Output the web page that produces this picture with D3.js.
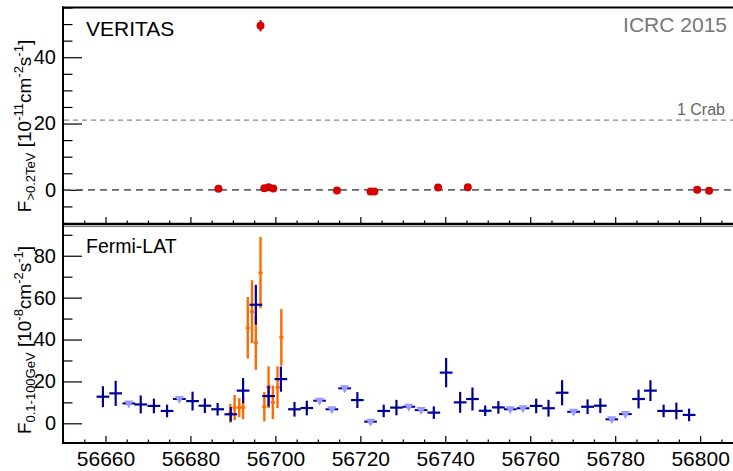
<!DOCTYPE html>
<html>
<head>
<meta charset="utf-8">
<script src="https://cdn.jsdelivr.net/npm/d3@7"></script>
<style>
  html, body { margin: 0; padding: 0; background: #fff; }
  svg { display: block; font-family: "Liberation Sans", Arial, Helvetica, sans-serif; }
</style>
</head>
<body>
<svg id="chart" width="733" height="471"></svg>
<script>
// ---------------- DATA ----------------
// VERITAS (>0.2 TeV), 10^-11 cm^-2 s^-1
const veritasMJD  = [56686.6, 56696.5, 56697.4, 56698.4, 56699.5, 56714.5, 56722.4, 56723.3, 56738.3, 56745.3, 56799.3, 56802.1];
const veritasFlux = [0.3, 49.5, 0.5, 0.8, 0.4, -0.2, -0.5, -0.5, 0.7, 0.8, 0.0, -0.3];
const veritasErr  = [0.4, 1.7, 0.4, 0.4, 0.4, 0.4, 0.4, 0.4, 0.4, 0.4, 0.4, 0.4];
const crabLevel = 21;

// Fermi-LAT 3-day bins, detections (10^-8 cm^-2 s^-1)
const fermiMJD  = [56659.4, 56662.4, 56668.3, 56671.4, 56674.5, 56680.5, 56683.4, 56686.4, 56689.5, 56692.4, 56695.4, 56698.4, 56701.3, 56704.5, 56707.4, 56719.3, 56725.5, 56728.5, 56737.3, 56740.2, 56743.5, 56746.4, 56749.4, 56752.5, 56761.4, 56764.3, 56767.5, 56773.5, 56776.5, 56785.5, 56788.3, 56791.4, 56794.4, 56797.4];
const fermiFlux = [12.7, 14.3, 9.0, 8.3, 5.9, 10.6, 8.4, 6.7, 4.3, 15.6, 56.6, 13.0, 21.1, 6.7, 7.3, 11.1, 5.9, 7.5, 5.1, 24.2, 10.0, 11.6, 6.0, 7.6, 8.3, 7.2, 14.6, 7.9, 8.4, 11.6, 15.6, 5.9, 5.9, 4.0];
const fermiErr  = [5.0, 6.0, 4.3, 3.5, 3.0, 4.5, 3.5, 3.0, 3.5, 6.0, 9.5, 5.0, 6.0, 3.5, 3.5, 3.8, 3.0, 3.7, 3.0, 7.0, 5.0, 5.5, 2.5, 3.0, 3.5, 4.0, 6.0, 3.5, 3.5, 4.5, 5.0, 3.0, 4.0, 3.0];
const fermiBinHalf = 1.5;

// Fermi-LAT upper limits (3-day bins)
const ulMJD  = [56665.5, 56677.4, 56710.4, 56713.3, 56716.3, 56722.4, 56731.4, 56734.3, 56755.3, 56758.3, 56770.2, 56779.2, 56782.4];
const ulFlux = [9.5, 11.6, 10.8, 6.7, 16.7, 0.8, 7.9, 6.3, 6.7, 7.2, 5.5, 1.9, 4.4];

// Fermi-LAT 1-day bins around the flare
const flareMJD  = [56689.4, 56690.4, 56691.5, 56692.4, 56693.5, 56694.5, 56695.4, 56696.5, 56697.4, 56698.4, 56699.4, 56700.5, 56701.4];
const flareFlux = [4.8, 7.5, 7.5, 7.5, 45.6, 53.3, 38.5, 71.9, 7.9, 17.2, 10.0, 17.2, 41.0];
const flareErr  = [4.5, 6.0, 4.5, 5.5, 14.7, 15.0, 13.0, 17.0, 7.0, 10.0, 8.0, 10.0, 13.5];
const flareBinHalf = 0.5;

// ticks
const xMajorTicks = [56660, 56680, 56700, 56720, 56740, 56760, 56780, 56800];
const topYMajor = [0, 20, 40];
const botYMajor = [0, 20, 40, 60, 80];

// ---------------- DRAW ----------------
const svg = d3.select("#chart");
const FONT = "'Liberation Sans', Arial, Helvetica, sans-serif";
const dark = "#000099", light = "#9999ff", red = "#d40000", orange = "#ff6a00";

const x = d3.scaleLinear().domain([56650, 56807.5]).range([63, 732]);
const yTop = d3.scaleLinear().domain([-10, 55]).range([223, 7.5]);
const yBot = d3.scaleLinear().domain([-9.4, 94.2]).range([443, 226]);

const xMinor = d3.range(56650, 56808, 5).filter(v => !xMajorTicks.includes(v));
const topMinor = d3.range(-5, 56, 5).filter(v => !topYMajor.includes(v));
const botMinor = d3.range(-0, 95, 10).filter(v => !botYMajor.includes(v));

function styleAxis(g, fs) {
  g.select(".domain").remove();
  g.selectAll("line").attr("stroke", "#000").attr("stroke-width", 1.2);
  g.selectAll("text").attr("font-family", FONT).attr("font-size", fs).attr("fill", "#000");
}

// ----- top panel axes -----
svg.append("g").attr("transform", "translate(0,224)")
  .call(d3.axisBottom(x).tickValues(xMajorTicks).tickSize(-7).tickFormat(""))
  .call(g => styleAxis(g, 0));
svg.append("g").attr("transform", "translate(0,224)")
  .call(d3.axisBottom(x).tickValues(xMinor).tickSize(-3.5).tickFormat(""))
  .call(g => styleAxis(g, 0));
svg.append("g").attr("transform", "translate(63,0)")
  .call(d3.axisLeft(yTop).tickValues(topYMajor).tickSize(-19).tickPadding(7).tickFormat(d3.format("d")))
  .call(g => styleAxis(g, 20));
svg.append("g").attr("transform", "translate(63,0)")
  .call(d3.axisLeft(yTop).tickValues(topMinor).tickSize(-9.5).tickFormat(""))
  .call(g => styleAxis(g, 0));

// ----- bottom panel axes -----
svg.append("g").attr("transform", "translate(0,443)")
  .call(d3.axisBottom(x).tickValues(xMajorTicks).tickSize(-7).tickPadding(8).tickFormat(d3.format("d")))
  .call(g => styleAxis(g, 21));
svg.append("g").attr("transform", "translate(0,443)")
  .call(d3.axisBottom(x).tickValues(xMinor).tickSize(-3.5).tickFormat(""))
  .call(g => styleAxis(g, 0));
svg.append("g").attr("transform", "translate(63,0)")
  .call(d3.axisLeft(yBot).tickValues(botYMajor).tickSize(-19).tickPadding(7).tickFormat(d3.format("d")))
  .call(g => styleAxis(g, 20));
svg.append("g").attr("transform", "translate(63,0)")
  .call(d3.axisLeft(yBot).tickValues(botMinor).tickSize(-9.5).tickFormat(""))
  .call(g => styleAxis(g, 0));

// ----- frames -----
svg.append("line").attr("x1", 62).attr("x2", 733).attr("y1", 7.5).attr("y2", 7.5).attr("stroke", "#000").attr("stroke-width", 2);
svg.append("line").attr("x1", 63).attr("x2", 63).attr("y1", 6.5).attr("y2", 225).attr("stroke", "#000").attr("stroke-width", 2);
svg.append("line").attr("x1", 62).attr("x2", 733).attr("y1", 224).attr("y2", 224).attr("stroke", "#000").attr("stroke-width", 2.5);
svg.append("line").attr("x1", 64).attr("x2", 733).attr("y1", 226.5).attr("y2", 226.5).attr("stroke", "#777").attr("stroke-width", 1);
svg.append("line").attr("x1", 63).attr("x2", 63).attr("y1", 225).attr("y2", 444).attr("stroke", "#000").attr("stroke-width", 2);
svg.append("line").attr("x1", 62).attr("x2", 733).attr("y1", 443).attr("y2", 443).attr("stroke", "#000").attr("stroke-width", 2);

// ----- top panel reference lines -----
svg.append("line").attr("x1", 64).attr("x2", 733)
  .attr("y1", yTop(0)).attr("y2", yTop(0))
  .attr("stroke", "#666").attr("stroke-width", 1.6).attr("stroke-dasharray", "7,5");
svg.append("line").attr("x1", 64).attr("x2", 733)
  .attr("y1", yTop(crabLevel)).attr("y2", yTop(crabLevel))
  .attr("stroke", "#888").attr("stroke-width", 1.2).attr("stroke-dasharray", "5,4");
svg.append("text").attr("x", 725).attr("y", yTop(crabLevel) - 5)
  .attr("text-anchor", "end").attr("font-family", FONT).attr("font-size", 16).attr("fill", "#666").text("1 Crab");

// ----- VERITAS points -----
const vData = veritasMJD.map((m, i) => ({ m, f: veritasFlux[i], e: veritasErr[i] }));
const vg = svg.append("g");
vg.selectAll("line.err").data(vData).join("line")
  .attr("x1", d => x(d.m)).attr("x2", d => x(d.m))
  .attr("y1", d => yTop(d.f - d.e)).attr("y2", d => yTop(d.f + d.e))
  .attr("stroke", red).attr("stroke-width", 2);
vg.selectAll("circle").data(vData).join("circle")
  .attr("cx", d => x(d.m)).attr("cy", d => yTop(d.f)).attr("r", 4)
  .attr("fill", red);

// ----- Fermi flare (1-day bins, orange) -----
const oData = flareMJD.map((m, i) => ({ m, f: flareFlux[i], e: flareErr[i] }));
const og = svg.append("g");
og.selectAll("line.v").data(oData).join("line")
  .attr("x1", d => x(d.m)).attr("x2", d => x(d.m))
  .attr("y1", d => yBot(d.f - d.e)).attr("y2", d => yBot(d.f + d.e))
  .attr("stroke", orange).attr("stroke-width", 2.4);
og.selectAll("line.h").data(oData).join("line")
  .attr("x1", d => x(d.m - flareBinHalf)).attr("x2", d => x(d.m + flareBinHalf))
  .attr("y1", d => yBot(d.f)).attr("y2", d => yBot(d.f))
  .attr("stroke", orange).attr("stroke-width", 2.4);

// ----- Fermi upper limits -----
const uData = ulMJD.map((m, i) => ({ m, f: ulFlux[i] }));
const ug = svg.append("g");
ug.selectAll("line").data(uData).join("line")
  .attr("x1", d => x(d.m - fermiBinHalf)).attr("x2", d => x(d.m + fermiBinHalf))
  .attr("y1", d => yBot(d.f)).attr("y2", d => yBot(d.f))
  .attr("stroke", dark).attr("stroke-width", 2);
ug.selectAll("path").data(uData).join("path")
  .attr("d", d => {
    const cx = x(d.m), cy = yBot(d.f);
    return `M${cx - 4.6},${cy - 3} L${cx + 4.6},${cy - 3} L${cx},${cy + 5} Z`;
  })
  .attr("fill", light);

// ----- Fermi detections (3-day bins, dark blue crosses) -----
const fData = fermiMJD.map((m, i) => ({ m, f: fermiFlux[i], e: fermiErr[i] }));
const fg = svg.append("g");
fg.selectAll("line.v").data(fData).join("line")
  .attr("x1", d => x(d.m)).attr("x2", d => x(d.m))
  .attr("y1", d => yBot(d.f - d.e)).attr("y2", d => yBot(d.f + d.e))
  .attr("stroke", dark).attr("stroke-width", 2.2);
fg.selectAll("line.h").data(fData).join("line")
  .attr("x1", d => x(d.m - fermiBinHalf)).attr("x2", d => x(d.m + fermiBinHalf))
  .attr("y1", d => yBot(d.f)).attr("y2", d => yBot(d.f))
  .attr("stroke", dark).attr("stroke-width", 2.2);

// ----- panel labels -----
svg.append("text").attr("x", 86).attr("y", 36).attr("font-family", FONT).attr("font-size", 21)
  .attr("fill", "#000").text("VERITAS");
svg.append("text").attr("x", 727).attr("y", 32).attr("text-anchor", "end").attr("font-family", FONT)
  .attr("font-size", 21).attr("fill", "#777").text("ICRC 2015");
svg.append("text").attr("x", 86).attr("y", 253).attr("font-family", FONT).attr("font-size", 19.5)
  .attr("fill", "#000").text("Fermi-LAT");

// ----- y-axis titles -----
function axisTitle(cx, cy, parts) {
  const t = svg.append("text").attr("transform", `translate(${cx},${cy}) rotate(-90)`)
    .attr("text-anchor", "middle").attr("font-family", FONT).attr("fill", "#000");
  let shift = 0;
  parts.forEach(p => {
    const target = p.k === "sub" ? 4 : p.k === "sup" ? -8 : 0;
    t.append("tspan").attr("dy", target - shift)
      .attr("font-size", p.k ? 13 : 19).text(p.s);
    shift = target;
  });
}
axisTitle(31, 126, [
  { s: "F" }, { s: ">0.2TeV", k: "sub" }, { s: " [10" }, { s: "-11", k: "sup" },
  { s: "cm" }, { s: "-2", k: "sup" }, { s: "s" }, { s: "-1", k: "sup" }, { s: "]" }
]);
axisTitle(31, 340, [
  { s: "F" }, { s: "0.1-100GeV", k: "sub" }, { s: " [10" }, { s: "-8", k: "sup" },
  { s: "cm" }, { s: "-2", k: "sup" }, { s: "s" }, { s: "-1", k: "sup" }, { s: "]" }
]);
</script>
</body>
</html>
